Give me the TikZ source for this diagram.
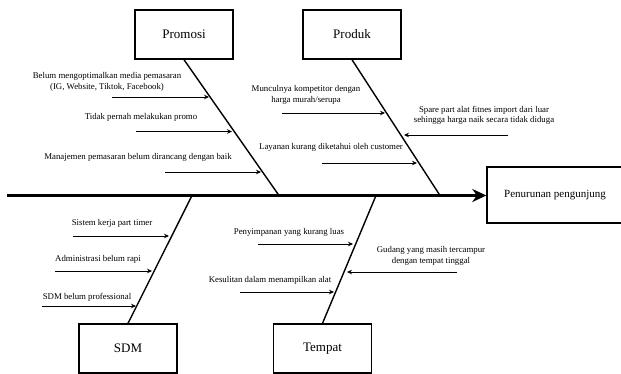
\documentclass[tikz,border=0pt]{standalone}
\usepackage{tikz}
\usepackage{fontspec}
\setmainfont{Liberation Serif}
\usetikzlibrary{calc,arrows,arrows.meta,positioning}
\tikzstyle{category}=[rectangle,draw=black,line width=1.4pt,minimum width=98pt,minimum height=49pt,inner sep=3pt,align=center,font=\fontsize{13}{15}\selectfont]
\tikzstyle{effect}=[rectangle,draw=black,line width=1.4pt,minimum width=136pt,minimum height=56pt,inner sep=3pt,align=center,font=\fontsize{11}{13}\selectfont]
\tikzstyle{cause}=[align=center,inner sep=1pt,font=\fontsize{8.8}{10.4}\selectfont]
\tikzstyle{bone}=[line width=1.4pt]
\tikzstyle{sub}=[->,line width=0.8pt]

\begin{document}
\begin{tikzpicture}[x=1pt,y=-1pt,>={Stealth[length=5pt,width=4.5pt]}]
    \useasboundingbox (0,0) rectangle (621,373);

    % head and spine
    \node[effect] (head) at (555,195) {Penurunan pengunjung};
    \coordinate (tail) at (7,195.5);
    \draw[line width=3pt,-{Stealth[length=14pt,width=13pt]}] (tail) -- (tail -| head.west);

    % categories
    \node[category] (promosi) at (184,34.5) {Promosi};
    \node[category] (produk) at (352,34.5) {Produk};
    \node[category] (sdm) at (128,348.5) {SDM};
    \node[category] (tempat) at (322.5,348.5) {Tempat};

    \coordinate (jpromosi) at (279,195.5);
    \coordinate (jproduk) at (440,195.5);
    \coordinate (jsdm) at (192,195.5);
    \coordinate (jtempat) at (376,195.5);

    \draw[bone] (promosi.south) -- (jpromosi);
    \draw[bone] (produk.south) -- (jproduk);
    \draw[bone] (sdm.north) -- (jsdm);
    \draw[bone] (tempat.north) -- (jtempat);

    % Promosi
    \node[cause] (c1) at (107,82) {Belum mengoptimalkan media pemasaran\\(IG, Website, Tiktok, Facebook)};
    \node[cause] (c2) at (141,117) {Tidak pernah melakukan promo};
    \node[cause] (c3) at (138,157) {Manajemen pemasaran belum dirancang dengan baik};
    \coordinate (s1) at (112,97);    \coordinate (e1) at (209,97);
    \coordinate (s2) at (136,131.5); \coordinate (e2) at (232,131.5);
    \coordinate (s3) at (165,172);   \coordinate (e3) at (261,172);
    \draw[sub] (s1) -- (e1);
    \draw[sub] (s2) -- (e2);
    \draw[sub] (s3) -- (e3);

    % Produk
    \node[cause] (c4) at (306,95) {Munculnya kompetitor dengan\\harga murah/serupa};
    \node[cause] (c5) at (484,115.5) {Spare part alat fitnes import dari luar\\sehingga harga naik secara tidak diduga};
    \node[cause] (c6) at (331,147) {Layanan kurang diketahui oleh customer};
    \coordinate (s4) at (282,113);   \coordinate (e4) at (385,113);
    \coordinate (s5) at (508,135);   \coordinate (e5) at (404,135);
    \coordinate (s6) at (322,163);   \coordinate (e6) at (417,163);
    \draw[sub] (s4) -- (e4);
    \draw[sub] (s5) -- (e5);
    \draw[sub] (s6) -- (e6);

    % SDM
    \node[cause] (c7) at (112,223) {Sistem kerja part timer};
    \node[cause] (c8) at (98,259) {Administrasi belum rapi};
    \node[cause] (c9) at (87,297) {SDM belum professional};
    \coordinate (s7) at (73,236);    \coordinate (e7) at (169,236);
    \coordinate (s8) at (55,271);    \coordinate (e8) at (152,271);
    \coordinate (s9) at (42,306);    \coordinate (e9) at (136,306);
    \draw[sub] (s7) -- (e7);
    \draw[sub] (s8) -- (e8);
    \draw[sub] (s9) -- (e9);

    % Tempat
    \node[cause] (c10) at (289,232) {Penyimpanan yang kurang luas};
    \node[cause] (c11) at (431,256) {Gudang yang masih tercampur\\dengan tempat tinggal};
    \node[cause] (c12) at (270,280) {Kesulitan dalam menampilkan alat};
    \coordinate (s10) at (258,244);  \coordinate (e10) at (353,244);
    \coordinate (s11) at (457,272);  \coordinate (e11) at (347,272);
    \coordinate (s12) at (240,292);  \coordinate (e12) at (334,292);
    \draw[sub] (s10) -- (e10);
    \draw[sub] (s11) -- (e11);
    \draw[sub] (s12) -- (e12);
\end{tikzpicture}
\end{document}
